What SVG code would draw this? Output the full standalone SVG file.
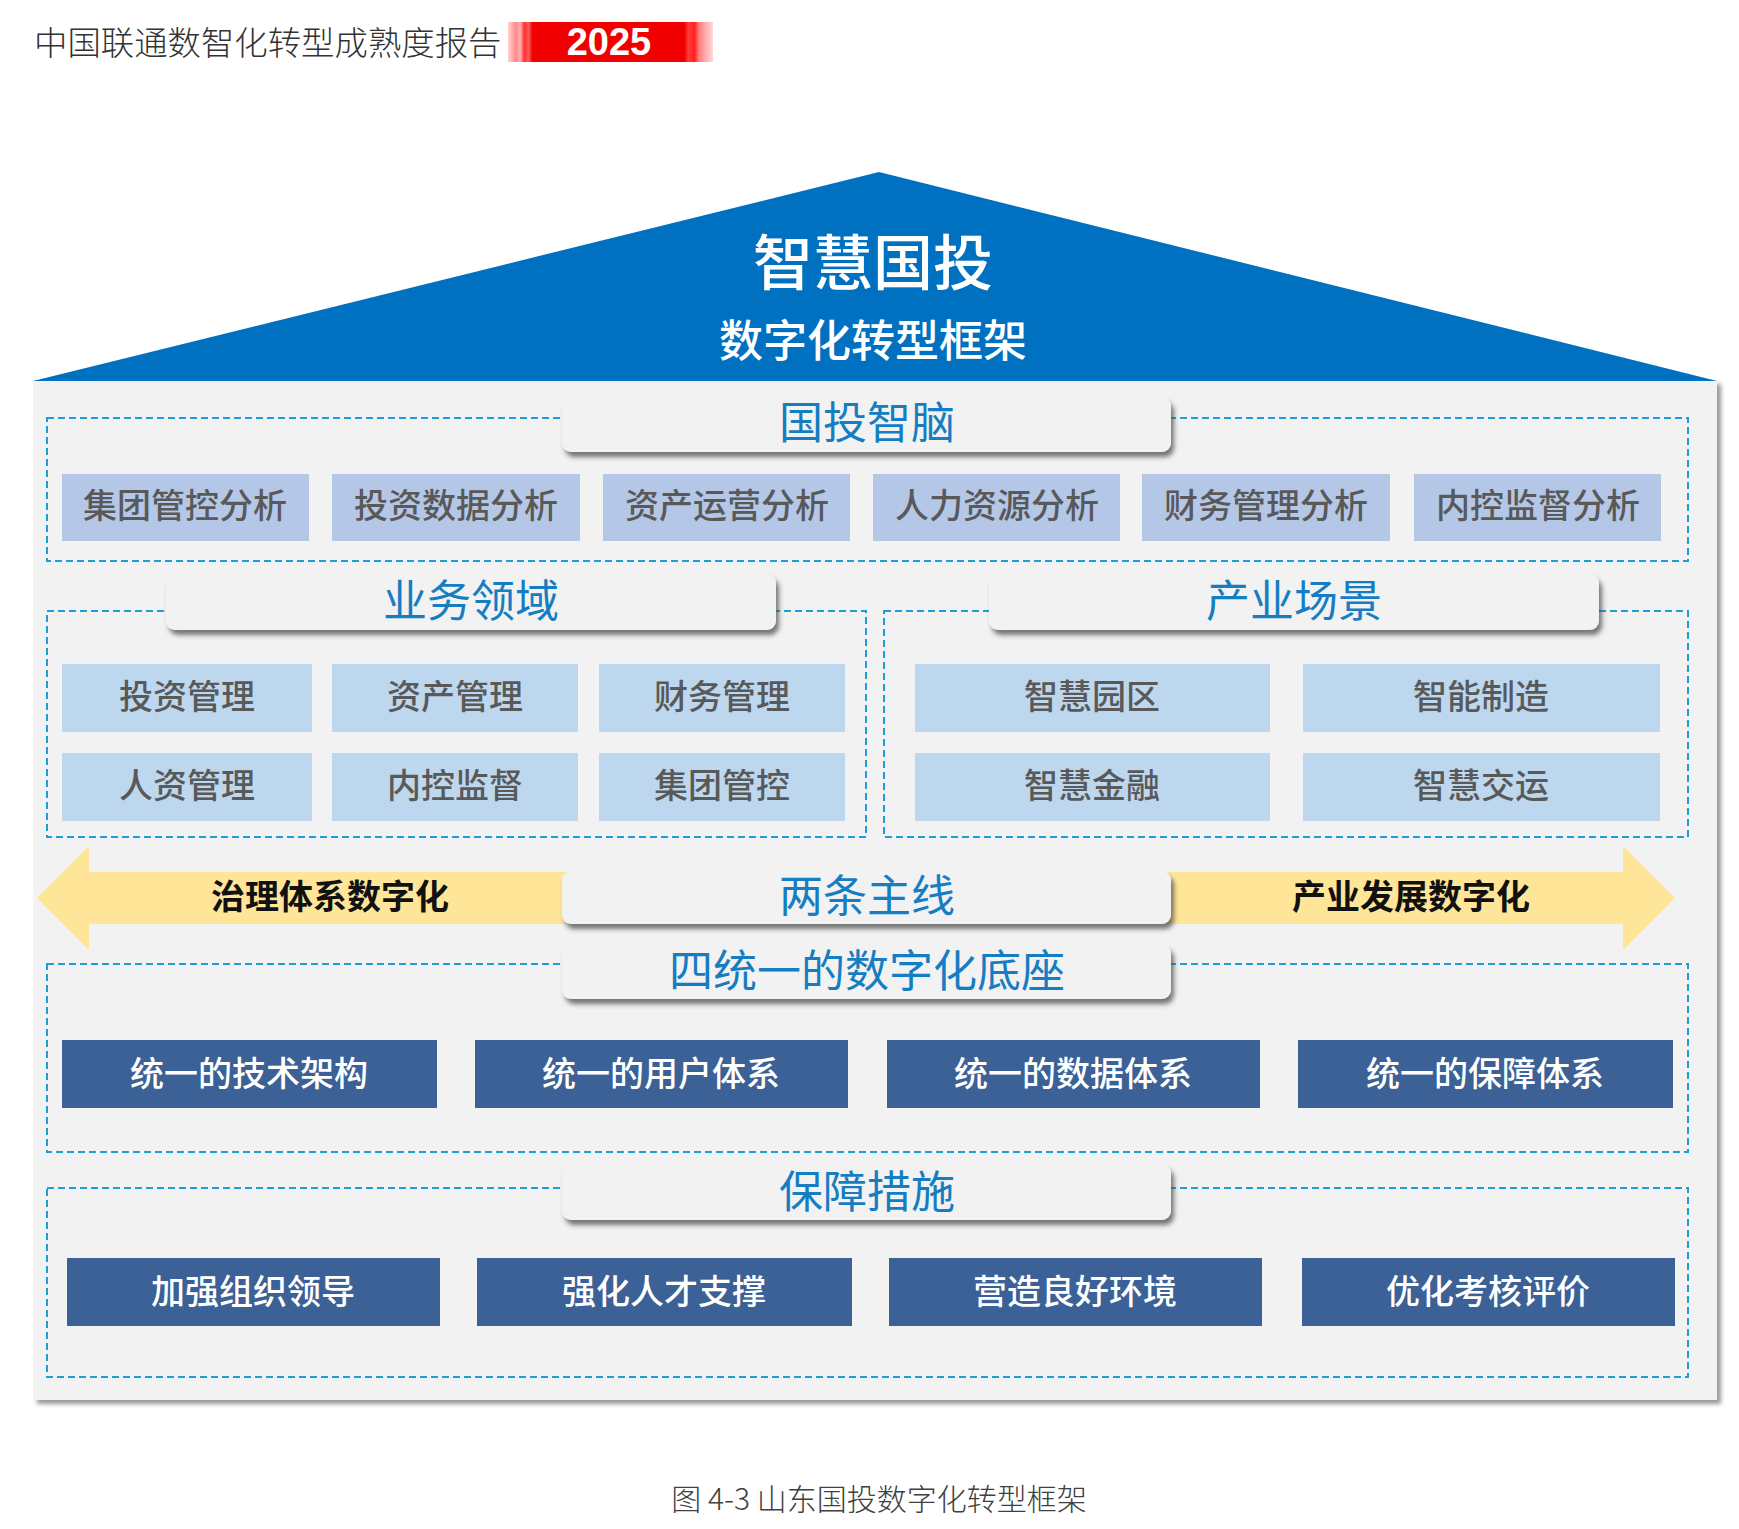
<svg xmlns="http://www.w3.org/2000/svg" width="1739" height="1529" viewBox="0 0 1739 1529">
<defs>
<style>
text{font-family:"Noto Sans CJK SC","Noto Sans",sans-serif;text-anchor:middle;dominant-baseline:central}
.dash{fill:none;stroke:#1E9ED8;stroke-width:2;stroke-dasharray:7 4}
.pill{fill:#F2F2F2;filter:url(#sh)}
.ptxt{fill:#167DC3;font-size:44px}
.lb1{fill:#B4C7E7}
.lb2{fill:#BDD7EE}
.dk{fill:#3B6196}
.gtxt{fill:#595959;font-size:34px;font-weight:500}
.wtxt{fill:#FFFFFF;font-size:34px;font-weight:500}
.atxt{fill:#111111;font-size:34px;font-weight:700}
</style>
<filter id="sh" x="-5%" y="-30%" width="115%" height="190%">
<feDropShadow dx="3" dy="5" stdDeviation="2.5" flood-color="#4A4A4A" flood-opacity="0.75"/>
</filter>
<filter id="bsh" x="-2%" y="-2%" width="105%" height="105%">
<feDropShadow dx="4" dy="4" stdDeviation="2" flood-color="#7F7F7F" flood-opacity="0.8"/>
</filter>
<linearGradient id="red" x1="0" x2="1" y1="0" y2="0">
<stop offset="0" stop-color="#FFD0D0"/>
<stop offset="0.04" stop-color="#FF8A8A"/>
<stop offset="0.06" stop-color="#FFB0B0"/>
<stop offset="0.08" stop-color="#FF3030"/>
<stop offset="0.1" stop-color="#FF5A5A"/>
<stop offset="0.12" stop-color="#F00000"/>
<stop offset="0.86" stop-color="#F00000"/>
<stop offset="0.88" stop-color="#FF3A3A"/>
<stop offset="0.91" stop-color="#FF2020"/>
<stop offset="0.93" stop-color="#FF7A7A"/>
<stop offset="0.96" stop-color="#FFA8A8"/>
<stop offset="1" stop-color="#FFD8D8"/>
</linearGradient>
</defs>
<rect width="1739" height="1529" fill="#FFFFFF"/>
<g id="header">
<text x="34" y="40" style="text-anchor:start;font-size:33.4px;fill:#333333;font-weight:300">中国联通数智化转型成熟度报告</text>
<rect x="508" y="22" width="205" height="40" fill="url(#red)"/>
<text x="609" y="42" style="font-family:'Liberation Sans',Arial,sans-serif;font-size:38px;font-weight:700;fill:#FFFFFF">2025</text>
</g>
<g id="body">
<rect x="33" y="380" width="1684" height="1020" fill="#F2F2F2" filter="url(#bsh)"/>
</g>
<g id="roof">
<polygon points="879,172 33,381 1717,381" fill="#0070C0"/>
<text x="873" y="258" style="font-size:60px;font-weight:500;fill:#FFFFFF">智慧国投</text>
<text x="873" y="338" style="font-size:44px;font-weight:500;fill:#FFFFFF">数字化转型框架</text>
</g>
<g id="arrows">
<polygon points="37,898 89,846 89,872 1623,872 1623,846 1675,898 1623,950 1623,924 89,924 89,950" fill="#FFE597"/>
<text class="atxt" x="330" y="894">治理体系数字化</text>
<text class="atxt" x="1411" y="894">产业发展数字化</text>
</g>
<g id="sec-brain">
<rect class="dash" x="47" y="418" width="1641" height="143"/>
<rect class="pill" x="562" y="397" width="609" height="55" rx="9"/>
<text class="ptxt" x="867" y="420">国投智脑</text>
<g id="brain-1"><rect class="lb1" x="62" y="474" width="247" height="67"/><text class="gtxt" x="185" y="503">集团管控分析</text></g>
<g id="brain-2"><rect class="lb1" x="332" y="474" width="248" height="67"/><text class="gtxt" x="456" y="503">投资数据分析</text></g>
<g id="brain-3"><rect class="lb1" x="603" y="474" width="247" height="67"/><text class="gtxt" x="727" y="503">资产运营分析</text></g>
<g id="brain-4"><rect class="lb1" x="873" y="474" width="247" height="67"/><text class="gtxt" x="997" y="503">人力资源分析</text></g>
<g id="brain-5"><rect class="lb1" x="1142" y="474" width="248" height="67"/><text class="gtxt" x="1266" y="503">财务管理分析</text></g>
<g id="brain-6"><rect class="lb1" x="1414" y="474" width="247" height="67"/><text class="gtxt" x="1538" y="503">内控监督分析</text></g>
</g>
<g id="sec-business">
<rect class="dash" x="47" y="611" width="819" height="226"/>
<rect class="pill" x="166" y="574" width="610" height="56" rx="9"/>
<text class="ptxt" x="471" y="598">业务领域</text>
<g id="biz-1"><rect class="lb2" x="62" y="664" width="250" height="68"/><text class="gtxt" x="187" y="694">投资管理</text></g>
<g id="biz-2"><rect class="lb2" x="332" y="664" width="246" height="68"/><text class="gtxt" x="455" y="694">资产管理</text></g>
<g id="biz-3"><rect class="lb2" x="599" y="664" width="246" height="68"/><text class="gtxt" x="722" y="694">财务管理</text></g>
<g id="biz-4"><rect class="lb2" x="62" y="753" width="250" height="68"/><text class="gtxt" x="187" y="783">人资管理</text></g>
<g id="biz-5"><rect class="lb2" x="332" y="753" width="246" height="68"/><text class="gtxt" x="455" y="783">内控监督</text></g>
<g id="biz-6"><rect class="lb2" x="599" y="753" width="246" height="68"/><text class="gtxt" x="722" y="783">集团管控</text></g>
</g>
<g id="sec-industry">
<rect class="dash" x="884" y="611" width="804" height="226"/>
<rect class="pill" x="989" y="574" width="610" height="56" rx="9"/>
<text class="ptxt" x="1294" y="598">产业场景</text>
<g id="ind-1"><rect class="lb2" x="915" y="664" width="355" height="68"/><text class="gtxt" x="1092" y="694">智慧园区</text></g>
<g id="ind-2"><rect class="lb2" x="1303" y="664" width="357" height="68"/><text class="gtxt" x="1481" y="694">智能制造</text></g>
<g id="ind-3"><rect class="lb2" x="915" y="753" width="355" height="68"/><text class="gtxt" x="1092" y="783">智慧金融</text></g>
<g id="ind-4"><rect class="lb2" x="1303" y="753" width="357" height="68"/><text class="gtxt" x="1481" y="783">智慧交运</text></g>
</g>
<g id="mainline">
<rect class="pill" x="562" y="871" width="609" height="53" rx="9"/>
<text class="ptxt" x="867" y="893">两条主线</text>
</g>
<g id="sec-base">
<rect class="dash" x="47" y="964" width="1641" height="188"/>
<rect class="pill" x="562" y="944" width="609" height="55" rx="9"/>
<text class="ptxt" x="867" y="968">四统一的数字化底座</text>
<g id="base-1"><rect class="dk" x="62" y="1040" width="375" height="68"/><text class="wtxt" x="249" y="1071">统一的技术架构</text></g>
<g id="base-2"><rect class="dk" x="475" y="1040" width="373" height="68"/><text class="wtxt" x="661" y="1071">统一的用户体系</text></g>
<g id="base-3"><rect class="dk" x="887" y="1040" width="373" height="68"/><text class="wtxt" x="1073" y="1071">统一的数据体系</text></g>
<g id="base-4"><rect class="dk" x="1298" y="1040" width="375" height="68"/><text class="wtxt" x="1485" y="1071">统一的保障体系</text></g>
</g>
<g id="sec-guarantee">
<rect class="dash" x="47" y="1188" width="1641" height="189"/>
<rect class="pill" x="562" y="1164" width="609" height="56" rx="9"/>
<text class="ptxt" x="867" y="1189">保障措施</text>
<g id="g-1"><rect class="dk" x="67" y="1258" width="373" height="68"/><text class="wtxt" x="253" y="1289">加强组织领导</text></g>
<g id="g-2"><rect class="dk" x="477" y="1258" width="375" height="68"/><text class="wtxt" x="664" y="1289">强化人才支撑</text></g>
<g id="g-3"><rect class="dk" x="889" y="1258" width="373" height="68"/><text class="wtxt" x="1075" y="1289">营造良好环境</text></g>
<g id="g-4"><rect class="dk" x="1302" y="1258" width="373" height="68"/><text class="wtxt" x="1488" y="1289">优化考核评价</text></g>
</g>
<g id="connectors"></g>
<text x="879" y="1497" style="font-size:30px;fill:#404040;font-weight:300">图 4-3 山东国投数字化转型框架</text>
</svg>
